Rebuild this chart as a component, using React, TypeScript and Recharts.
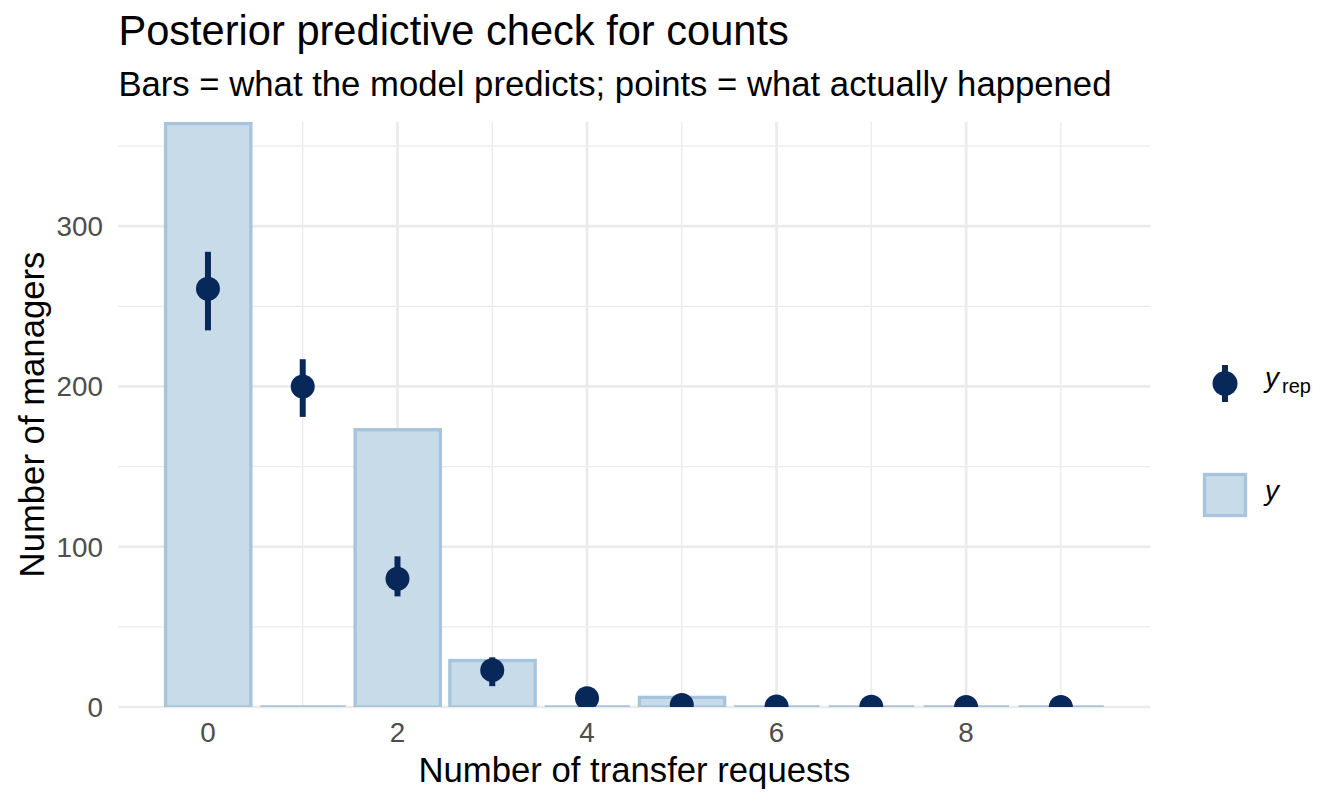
import React from 'react';
import { ComposedChart, Bar, Scatter, ErrorBar, XAxis, YAxis, CartesianGrid } from 'recharts';

const counts = [0, 1, 2, 3, 4, 5, 6, 7, 8, 9];
const observed = [364, 0, 173, 29, 0, 6, 0, 0, 0, 0];
const predicted = [261, 200, 80, 23, 5.5, 1.2, 0.3, 0.1, 0, 0];
const predLow = [235, 181, 69, 13, 3, 0, 0, 0, 0, 0];
const predHigh = [284, 217, 94, 31, 8, 3, 1, 1, 0, 0];

const xTicks = [0, 2, 4, 6, 8];
const xMinor = [1, 3, 5, 7, 9];
const yTicks = [0, 100, 200, 300];
const yMinor = [50, 150, 250, 350];

const data = counts.map((x, i) => ({
  x,
  y: observed[i],
  yrep: predicted[i],
  err: [predicted[i] - predLow[i], predHigh[i] - predicted[i]],
}));

const FONT = '"Liberation Sans", Arial, sans-serif';
const BAR_FILL = '#c7dbe9';
const BAR_LINE = '#a7c4dc';
const DARK = '#08285a';
const GRID = '#ebebeb';

const BarShape = (props: any) => {
  const { x, y, width, height } = props;
  if (!height) {
    return <line x1={x} x2={x + width} y1={y} y2={y} stroke={BAR_LINE} strokeWidth={3.3} />;
  }
  return <rect x={x} y={y} width={width} height={height} fill={BAR_FILL} stroke={BAR_LINE} strokeWidth={3.3} />;
};

const Dot = (props: any) => <circle cx={props.cx} cy={props.cy} r={12} fill={DARK} />;

export default function App() {
  const tick = { fontFamily: FONT, fontSize: 27.8, fill: '#4d4d4d' };
  return (
    <div style={{ position: 'absolute', left: 0, top: 0, width: 1344, height: 806, background: '#fff' }}>
      <ComposedChart
        width={1344}
        height={806}
        data={data}
        margin={{ top: 122, right: 193.6, bottom: 49, left: 8.4 }}
      >
        <CartesianGrid stroke={GRID} strokeWidth={1.3} horizontalValues={yMinor} verticalValues={xMinor} />
        <CartesianGrid stroke={GRID} strokeWidth={2.7} horizontalValues={yTicks} verticalValues={xTicks} />
        <XAxis
          type="number"
          dataKey="x"
          domain={[-0.945, 9.945]}
          ticks={xTicks}
          tick={tick}
          tickLine={false}
          axisLine={false}
          tickSize={0}
          tickMargin={15}
          height={50}
          allowDataOverflow
        />
        <YAxis
          type="number"
          domain={[0, 365]}
          ticks={yTicks}
          tick={tick}
          tickLine={false}
          axisLine={false}
          tickSize={0}
          tickMargin={15.4}
          width={110}
          allowDataOverflow
        />
        <Bar dataKey="y" barSize={85.3} shape={BarShape} isAnimationActive={false} />
        <Scatter dataKey="yrep" shape={Dot} isAnimationActive={false}>
          <ErrorBar dataKey="err" direction="y" width={0} stroke={DARK} strokeWidth={6} />
        </Scatter>
      </ComposedChart>
      <svg
        width={1344}
        height={806}
        style={{ position: 'absolute', left: 0, top: 0, pointerEvents: 'none' }}
        fontFamily={FONT}
      >
        <text x={118.4} y={45} fontSize={41.6} fill="#000">Posterior predictive check for counts</text>
        <text x={118.4} y={96} fontSize={34.7} fill="#000">Bars = what the model predicts; points = what actually happened</text>
        <text x={634.4} y={782} fontSize={34.7} textAnchor="middle" fill="#000">Number of transfer requests</text>
        <text x={44} y={414.5} fontSize={34.7} textAnchor="middle" fill="#000" transform="rotate(-90 44 414.5)">
          Number of managers
        </text>
        <line x1={1225} x2={1225} y1={365} y2={402} stroke={DARK} strokeWidth={6} />
        <circle cx={1225} cy={383.5} r={12.5} fill={DARK} />
        <text x={1265} y={387} fontSize={27.8} fontStyle="italic" fill="#000">y</text>
        <text x={1282} y={393} fontSize={20} fill="#000">rep</text>
        <rect x={1204.5} y={474.5} width={41} height={41} fill={BAR_FILL} stroke={BAR_LINE} strokeWidth={3.3} />
        <text x={1265} y={500} fontSize={27.8} fontStyle="italic" fill="#000">y</text>
      </svg>
    </div>
  );
}
